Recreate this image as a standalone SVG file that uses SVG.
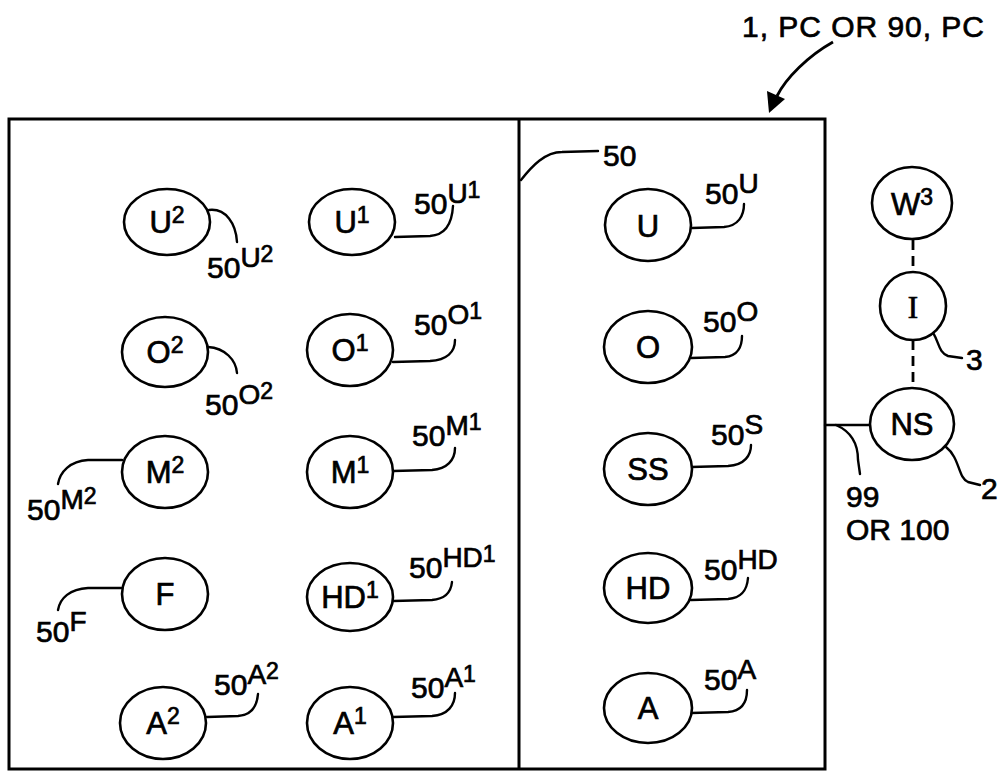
<svg xmlns="http://www.w3.org/2000/svg" width="1006" height="778" viewBox="0 0 1006 778">
<style>
text{font-family:"Liberation Sans",Arial,sans-serif;fill:#000;stroke:#000;stroke-width:0.7}
.lb{font-size:30px}
.nl{font-size:31px}
.sp{font-size:28px}
.sp2{font-size:23px}
.ns{font-size:23px}
.node ellipse{fill:#fff;stroke:#000;stroke-width:2.6}
.ld{fill:none;stroke:#000;stroke-width:2.4;stroke-linecap:round}
.dash{fill:none;stroke:#000;stroke-width:2.8;stroke-dasharray:10 6}
.frame{fill:none;stroke:#000;stroke-width:3}
</style>
<rect width="1006" height="778" fill="#fff"/>

<g id="frame">
<rect class="frame" x="9" y="119" width="816" height="650"/>
<line class="frame" x1="519" y1="119" x2="519" y2="769"/>
</g>

<g id="title">
<text x="742" y="37" font-size="30" textLength="242">1, PC OR 90, PC</text>
</g>

<g id="connectors">
<path d="M833,42 C808,56 786,78 777,96" fill="none" stroke="#000" stroke-width="2.8"/>
<path d="M769,113 L767,91 L785,99 Z" fill="#000"/>
<path class="ld" d="M521,180 C532,166 545,152 562,152 L598,151"/>
<path class="ld" d="M209,210 C226,208 236,224 237,242"/>
<path class="ld" d="M395,237 L430,236 C445,235 452,224 453,206"/>
<path class="ld" d="M692,228 L724,227 C738,226 744,216 744,204"/>
<path class="ld" d="M208,347 C225,348 236,360 237,373"/>
<path class="ld" d="M393,362 L430,361 C447,360 455,352 455,340"/>
<path class="ld" d="M691,358 L725,357 C738,356 742,346 742,336"/>
<path class="ld" d="M122,460 L88,460 C70,461 60,472 58,484"/>
<path class="ld" d="M393,471 L432,470 C447,469 455,460 455,448"/>
<path class="ld" d="M691,467 L728,466 C745,465 751,455 751,445"/>
<path class="ld" d="M121,588 L88,588 C70,589 60,598 58,610"/>
<path class="ld" d="M393,601 L432,600 C445,599 451,592 452,582"/>
<path class="ld" d="M691,600 L728,599 C742,598 747,590 748,578"/>
<path class="ld" d="M207,717 L238,716 C252,715 257,706 258,694"/>
<path class="ld" d="M393,717 L432,716 C448,715 455,705 455,693"/>
<path class="ld" d="M691,713 L728,712 C742,711 747,702 747,690"/>
<path class="ld" d="M825,425 L870,425"/>
<path class="ld" d="M836,425 C852,432 858,445 858,460 L860,474"/>
<path class="ld" d="M926,326 C940,335 936,352 948,356 L962,358"/>
<path class="ld" d="M946,447 C960,458 958,478 968,482 L980,485"/>
<path class="dash" d="M913,240 L913,272"/>
<path class="dash" d="M913,340 L913,387"/>
</g>

<g id="label-50"><text class="lb" x="603" y="166">50</text></g>

<g id="node-U2" class="node">
<ellipse cx="167" cy="222" rx="43" ry="33"/>
<text class="nl" x="167" y="233" text-anchor="middle">U<tspan class="ns" dy="-10">2</tspan></text>
<text class="lb" x="207" y="278">50<tspan class="sp" dy="-11">U</tspan><tspan class="sp2" dy="-5">2</tspan></text>
</g>
<g id="node-U1" class="node">
<ellipse cx="352" cy="222" rx="43" ry="33"/>
<text class="nl" x="352" y="233" text-anchor="middle">U<tspan class="ns" dy="-10">1</tspan></text>
<text class="lb" x="414" y="214">50<tspan class="sp" dy="-11">U</tspan><tspan class="sp2" dy="-5">1</tspan></text>
</g>
<g id="node-U" class="node">
<ellipse cx="648" cy="225" rx="43" ry="36"/>
<text class="nl" x="648" y="237" text-anchor="middle">U</text>
<text class="lb" x="705" y="204">50<tspan class="sp" dy="-11">U</tspan></text>
</g>
<g id="node-W3" class="node">
<ellipse cx="912" cy="203" rx="40" ry="36"/>
<text class="nl" x="912" y="215" text-anchor="middle">W<tspan class="ns" dy="-10">3</tspan></text>
</g>

<g id="node-O2" class="node">
<ellipse cx="165" cy="352" rx="43" ry="35"/>
<text class="nl" x="165" y="363" text-anchor="middle">O<tspan class="ns" dy="-10">2</tspan></text>
<text class="lb" x="205" y="415">50<tspan class="sp" dy="-11">O</tspan><tspan class="sp2" dy="-5">2</tspan></text>
</g>
<g id="node-O1" class="node">
<ellipse cx="350" cy="350" rx="43" ry="36"/>
<text class="nl" x="350" y="361" text-anchor="middle">O<tspan class="ns" dy="-10">1</tspan></text>
<text class="lb" x="414" y="335">50<tspan class="sp" dy="-11">O</tspan><tspan class="sp2" dy="-5">1</tspan></text>
</g>
<g id="node-O" class="node">
<ellipse cx="648" cy="347" rx="44" ry="36"/>
<text class="nl" x="648" y="358" text-anchor="middle">O</text>
<text class="lb" x="703" y="332">50<tspan class="sp" dy="-11">O</tspan></text>
</g>
<g id="node-I" class="node">
<ellipse cx="913" cy="306" rx="33" ry="34"/>
<text x="913" y="318" font-size="31" text-anchor="middle" style="font-family:'Liberation Serif','Times New Roman',serif">I</text>
<text class="lb" x="966" y="370">3</text>
</g>

<g id="node-M2" class="node">
<ellipse cx="165" cy="472" rx="43" ry="36"/>
<text class="nl" x="165" y="483" text-anchor="middle">M<tspan class="ns" dy="-10">2</tspan></text>
<text class="lb" x="27" y="520">50<tspan class="sp" dy="-11">M</tspan><tspan class="sp2" dy="-5">2</tspan></text>
</g>
<g id="node-M1" class="node">
<ellipse cx="350" cy="472" rx="43" ry="36"/>
<text class="nl" x="350" y="483" text-anchor="middle">M<tspan class="ns" dy="-10">1</tspan></text>
<text class="lb" x="412" y="446">50<tspan class="sp" dy="-11">M</tspan><tspan class="sp2" dy="-5">1</tspan></text>
</g>
<g id="node-SS" class="node">
<ellipse cx="648" cy="469" rx="44" ry="36"/>
<text class="nl" x="648" y="480" text-anchor="middle">SS</text>
<text class="lb" x="711" y="445">50<tspan class="sp" dy="-11">S</tspan></text>
</g>
<g id="node-NS" class="node">
<ellipse cx="912" cy="424" rx="42" ry="36"/>
<text class="nl" x="912" y="435" text-anchor="middle">NS</text>
<text class="lb" x="981" y="499">2</text>
<text class="lb" x="846" y="507">99</text>
<text class="lb" x="846" y="540">OR 100</text>
</g>

<g id="node-F" class="node">
<ellipse cx="165" cy="594" rx="43" ry="36"/>
<text class="nl" x="165" y="605" text-anchor="middle">F</text>
<text class="lb" x="36" y="642">50<tspan class="sp" dy="-11">F</tspan></text>
</g>
<g id="node-HD1" class="node">
<ellipse cx="350" cy="597" rx="43" ry="34"/>
<text class="nl" x="350" y="608" text-anchor="middle">HD<tspan class="ns" dy="-10">1</tspan></text>
<text class="lb" x="409" y="578">50<tspan class="sp" dy="-11">HD</tspan><tspan class="sp2" dy="-5">1</tspan></text>
</g>
<g id="node-HD" class="node">
<ellipse cx="648" cy="588" rx="44" ry="35"/>
<text class="nl" x="648" y="599" text-anchor="middle">HD</text>
<text class="lb" x="704" y="580">50<tspan class="sp" dy="-11">HD</tspan></text>
</g>

<g id="node-A2" class="node">
<ellipse cx="163" cy="723" rx="43" ry="36"/>
<text class="nl" x="163" y="734" text-anchor="middle">A<tspan class="ns" dy="-10">2</tspan></text>
<text class="lb" x="214" y="695">50<tspan class="sp" dy="-11">A</tspan><tspan class="sp2" dy="-5">2</tspan></text>
</g>
<g id="node-A1" class="node">
<ellipse cx="350" cy="723" rx="43" ry="36"/>
<text class="nl" x="350" y="734" text-anchor="middle">A<tspan class="ns" dy="-10">1</tspan></text>
<text class="lb" x="411" y="698">50<tspan class="sp" dy="-11">A</tspan><tspan class="sp2" dy="-5">1</tspan></text>
</g>
<g id="node-A" class="node">
<ellipse cx="648" cy="708" rx="44" ry="35"/>
<text class="nl" x="648" y="719" text-anchor="middle">A</text>
<text class="lb" x="704" y="690">50<tspan class="sp" dy="-11">A</tspan></text>
</g>
</svg>
